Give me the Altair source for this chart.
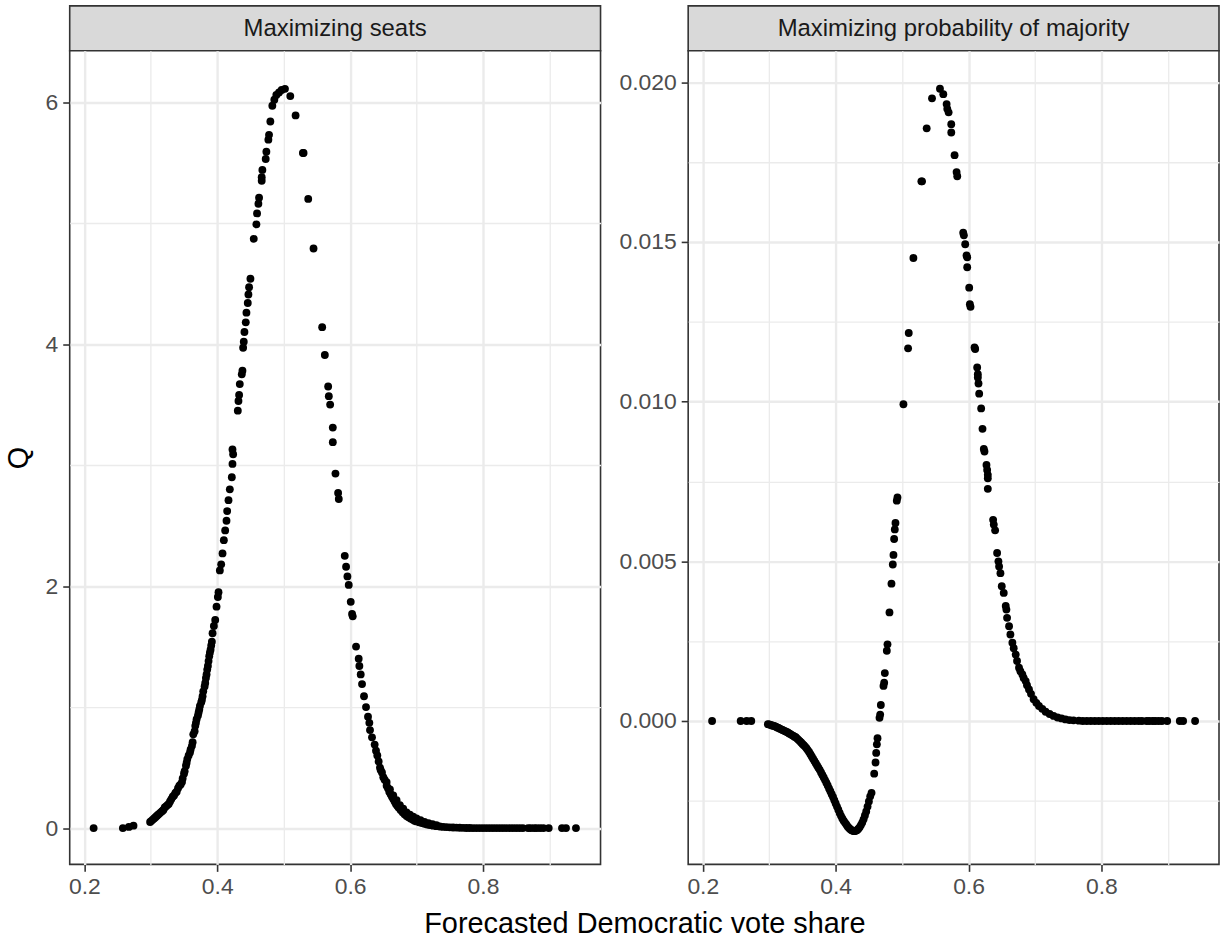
import altair as alt
import pandas as pd

# ---------------- data ----------------
panel_titles = ["Maximizing seats", "Maximizing probability of majority"]

# ---- left panel ("Maximizing seats"), in segments; each x list matches its q list ----
left_low_x = [0.214, 0.258, 0.267, 0.274,
              0.299, 0.301, 0.303, 0.305, 0.307, 0.309, 0.311, 0.313, 0.315, 0.317, 0.319, 0.321,
              0.323, 0.325, 0.327, 0.329, 0.331, 0.333, 0.335, 0.337, 0.339, 0.341, 0.343, 0.345]
left_low_q = [0.00, 0.00, 0.01, 0.02,
              0.05, 0.06, 0.07, 0.08, 0.09, 0.10, 0.11, 0.12, 0.13, 0.14, 0.15, 0.17,
              0.18, 0.19, 0.20, 0.22, 0.24, 0.26, 0.27, 0.29, 0.30, 0.33, 0.35, 0.36]
left_mid_x = [0.347, 0.348, 0.350, 0.351, 0.353, 0.354, 0.355, 0.357, 0.359, 0.360,
              0.362, 0.363, 0.364, 0.366, 0.367, 0.368, 0.369, 0.371, 0.372, 0.373,
              0.374, 0.376, 0.377, 0.378, 0.379, 0.381, 0.382, 0.383, 0.384, 0.385,
              0.386, 0.387, 0.388, 0.389, 0.390, 0.391, 0.392, 0.393, 0.395, 0.397]
left_mid_q = [0.38, 0.41, 0.45, 0.47, 0.515, 0.54, 0.57, 0.60, 0.625, 0.65,
              0.68, 0.71, 0.775, 0.80, 0.845, 0.87, 0.90, 0.93, 0.955, 0.98,
              1.01, 1.04, 1.06, 1.09, 1.13, 1.17, 1.20, 1.24, 1.27, 1.31,
              1.34, 1.38, 1.42, 1.45, 1.475, 1.51, 1.54, 1.61, 1.67, 1.72]
left_up_x = [0.399, 0.401, 0.402, 0.404, 0.406, 0.408, 0.410, 0.412, 0.414, 0.415,
             0.417, 0.419, 0.422, 0.423, 0.424, 0.423, 0.431, 0.432, 0.433, 0.434,
             0.437, 0.438, 0.439, 0.440, 0.441, 0.443, 0.444, 0.446, 0.447, 0.448,
             0.450, 0.455, 0.459, 0.460, 0.462, 0.463, 0.467, 0.467, 0.468, 0.473,
             0.474, 0.477, 0.478, 0.480, 0.483, 0.486, 0.489, 0.493, 0.497, 0.502]
left_up_q = [1.83, 1.91, 1.95, 2.13, 2.18, 2.27, 2.38, 2.46, 2.54, 2.62,
             2.71, 2.80, 2.90, 3.01, 3.09, 3.13, 3.45, 3.53, 3.58, 3.67,
             3.75, 3.78, 3.97, 4.02, 4.10, 4.18, 4.26, 4.34, 4.41, 4.47,
             4.54, 4.87, 4.99, 5.08, 5.16, 5.21, 5.35, 5.38, 5.44, 5.53,
             5.59, 5.69, 5.73, 5.84, 5.97, 6.02, 6.06, 6.08, 6.10, 6.11]
left_down_x = [0.510, 0.518, 0.529, 0.530, 0.537, 0.545, 0.558, 0.562, 0.567, 0.568,
               0.570, 0.574, 0.574, 0.578, 0.582, 0.583, 0.592, 0.594, 0.596, 0.598,
               0.601, 0.603, 0.604, 0.609, 0.613, 0.614, 0.616, 0.618, 0.621, 0.624,
               0.627, 0.629, 0.630, 0.633, 0.637, 0.639, 0.641, 0.643, 0.645, 0.646,
               0.648, 0.650]
left_down_q = [6.05, 5.89, 5.58, 5.58, 5.20, 4.79, 4.14, 3.91, 3.65, 3.57,
               3.50, 3.31, 3.19, 2.93, 2.77, 2.72, 2.25, 2.16, 2.08, 2.01,
               1.87, 1.77, 1.75, 1.50, 1.40, 1.34, 1.27, 1.19, 1.09, 1.00,
               0.92, 0.87, 0.81, 0.75, 0.69, 0.64, 0.60, 0.55, 0.50, 0.48,
               0.46, 0.42]
left_tail_x = [0.652, 0.655, 0.657, 0.659, 0.661, 0.663, 0.665, 0.667, 0.669, 0.671,
               0.673, 0.676, 0.679, 0.682, 0.685, 0.688, 0.691, 0.694, 0.697, 0.700,
               0.704, 0.708, 0.712, 0.716, 0.720, 0.725, 0.730, 0.735, 0.740, 0.745,
               0.750, 0.755, 0.760, 0.765, 0.770, 0.775, 0.780,
               0.655, 0.660, 0.665, 0.670, 0.675, 0.680, 0.685, 0.690, 0.695, 0.700,
               0.706, 0.712, 0.718, 0.724, 0.730]
left_tail_q = [0.40, 0.35, 0.33, 0.30, 0.28, 0.26, 0.24, 0.22, 0.20, 0.185,
               0.17, 0.15, 0.13, 0.115, 0.10, 0.09, 0.08, 0.07, 0.06, 0.055,
               0.048, 0.042, 0.036, 0.030, 0.025, 0.020, 0.016, 0.013, 0.010, 0.008,
               0.006, 0.005, 0.004, 0.003, 0.002, 0.001, 0.001,
               0.38, 0.32, 0.27, 0.23, 0.19, 0.16, 0.13, 0.11, 0.095, 0.08,
               0.065, 0.05, 0.04, 0.032, 0.025]
left_flat_x = [0.785, 0.790, 0.795, 0.800, 0.805, 0.810, 0.815, 0.820, 0.825, 0.830,
               0.835, 0.840, 0.845, 0.850, 0.855, 0.860, 0.868, 0.872, 0.877, 0.881,
               0.886, 0.891, 0.899, 0.919, 0.925, 0.940]
left_flat_q = [0.0, 0.0, 0.0, 0.0, 0.0, 0.0, 0.0, 0.0, 0.0, 0.0,
               0.0, 0.0, 0.0, 0.0, 0.0, 0.0, 0.0, 0.0, 0.0, 0.0,
               0.0, 0.0, 0.0, 0.0, 0.0, 0.0]

# ---- right panel ("Maximizing probability of majority") ----
right_dip_x = [0.214, 0.257, 0.266, 0.273,
               0.298, 0.300, 0.302, 0.304, 0.306, 0.308, 0.310, 0.312, 0.314, 0.316, 0.318, 0.320,
               0.322, 0.324, 0.326, 0.328, 0.330, 0.332, 0.334, 0.336, 0.338, 0.340, 0.342, 0.344,
               0.346, 0.348, 0.350, 0.352, 0.354, 0.356, 0.358, 0.360, 0.362, 0.364, 0.366, 0.368,
               0.370, 0.372, 0.374, 0.376, 0.378, 0.380, 0.382, 0.384, 0.386, 0.388, 0.390, 0.392,
               0.394, 0.396, 0.398, 0.400, 0.402, 0.404, 0.406, 0.408, 0.410, 0.412, 0.414, 0.416,
               0.418, 0.420, 0.422, 0.424, 0.426, 0.428, 0.430, 0.432, 0.434, 0.436, 0.438, 0.440,
               0.442, 0.444, 0.446, 0.448, 0.450, 0.452, 0.454]
right_dip_q = [0.0, 0.0, 0.0, 0.0,
               -0.00010, -0.00011, -0.00012, -0.00014, -0.00015, -0.00016, -0.00018, -0.00020,
               -0.00022, -0.00024, -0.00026, -0.00028, -0.00030, -0.00032, -0.00034, -0.00036,
               -0.00039, -0.00041, -0.00044, -0.00046, -0.00049, -0.00051, -0.00055, -0.00059,
               -0.00063, -0.00067, -0.00072, -0.00076, -0.00080, -0.00085, -0.00091, -0.00097,
               -0.00104, -0.00111, -0.00118, -0.00125, -0.00132, -0.00139, -0.00146, -0.00153,
               -0.00161, -0.00169, -0.00177, -0.00185, -0.00193, -0.00202, -0.00211, -0.00220,
               -0.00229, -0.00238, -0.00248, -0.00258, -0.00268, -0.00278, -0.00288, -0.00297,
               -0.00305, -0.00312, -0.00318, -0.00324, -0.00330, -0.00335, -0.00339, -0.00342,
               -0.00344, -0.00345, -0.00344, -0.00342, -0.00338, -0.00333, -0.00326, -0.00318,
               -0.00308, -0.00296, -0.00283, -0.00268, -0.00252, -0.00236, -0.00225]
right_rise_x = [0.458, 0.460, 0.461, 0.462, 0.463, 0.466, 0.467, 0.468, 0.472, 0.473, 0.474,
                0.477, 0.478, 0.481, 0.484, 0.486, 0.487, 0.488, 0.489, 0.490, 0.492, 0.493]
right_rise_q = [-0.00165, -0.00130, -0.00100, -0.00073, -0.00054, 0.00010, 0.00020, 0.00050,
                0.00110, 0.00120, 0.00150, 0.00220, 0.00240, 0.00340, 0.00430, 0.00490,
                0.00520, 0.00570, 0.00600, 0.00620, 0.00690, 0.00700]
right_peak_x = [0.502, 0.509, 0.510, 0.517, 0.529, 0.530, 0.537, 0.545, 0.557, 0.562, 0.567, 0.568,
                0.570, 0.574, 0.574, 0.579, 0.582, 0.583, 0.592, 0.593, 0.595, 0.597, 0.598, 0.598,
                0.601, 0.602, 0.603, 0.609, 0.610, 0.613, 0.614, 0.614, 0.615, 0.616, 0.619, 0.621,
                0.623, 0.624, 0.627, 0.628, 0.629, 0.629, 0.629, 0.637, 0.638, 0.640, 0.643, 0.645,
                0.646, 0.648, 0.650, 0.653, 0.656, 0.657, 0.658, 0.661, 0.663, 0.666, 0.668, 0.671,
                0.673, 0.676, 0.678, 0.681, 0.683, 0.686, 0.688, 0.691, 0.694, 0.698, 0.702, 0.706,
                0.711, 0.716, 0.722, 0.728, 0.734, 0.740, 0.746, 0.752, 0.758, 0.766]
right_peak_q = [0.00992, 0.01167, 0.01215, 0.01450, 0.01690, 0.01690, 0.01856, 0.01950, 0.01980, 0.01963, 0.01932, 0.01917,
                0.01906, 0.01869, 0.01843, 0.01772, 0.01719, 0.01706, 0.01529, 0.01521, 0.01493, 0.01458, 0.01452, 0.01421,
                0.01357, 0.01305, 0.01297, 0.01170, 0.01165, 0.01107, 0.01086, 0.01076, 0.01057, 0.01025, 0.00979, 0.00915,
                0.00852, 0.00844, 0.00802, 0.00786, 0.00771, 0.00760, 0.00727, 0.00630, 0.00615, 0.00597, 0.00526, 0.00500,
                0.00484, 0.00463, 0.00422, 0.00401, 0.00360, 0.00349, 0.00323, 0.00297, 0.00271, 0.00245, 0.00228, 0.00208,
                0.00188, 0.00167, 0.00156, 0.00146, 0.00135, 0.00125, 0.00112, 0.00099, 0.00085, 0.00068, 0.00057, 0.00047,
                0.00038, 0.00029, 0.00022, 0.00016, 0.00011, 0.00008, 0.00005, 0.00003, 0.00002, 0.00001]
right_flat_x = [0.772, 0.778, 0.784, 0.790, 0.796, 0.802, 0.808, 0.814, 0.820, 0.826, 0.832, 0.838, 0.844,
                0.850, 0.856, 0.861, 0.868, 0.872, 0.877, 0.881, 0.886, 0.891, 0.899, 0.918, 0.923, 0.941]
right_flat_q = [0.0, 0.0, 0.0, 0.0, 0.0, 0.0, 0.0, 0.0, 0.0, 0.0, 0.0, 0.0, 0.0,
                0.0, 0.0, 0.0, 0.0, 0.0, 0.0, 0.0, 0.0, 0.0, 0.0, 0.0, 0.0, 0.0]

left_x = left_low_x + left_mid_x + left_up_x + left_down_x + left_tail_x + left_flat_x
left_q = left_low_q + left_mid_q + left_up_q + left_down_q + left_tail_q + left_flat_q
right_x = right_dip_x + right_rise_x + right_peak_x + right_flat_x
right_q = right_dip_q + right_rise_q + right_peak_q + right_flat_q

x_values = [0.2, 0.3, 0.4, 0.5, 0.6, 0.7, 0.8, 0.9]
left_y_values = [0, 1, 2, 3, 4, 5, 6]
right_y_values = [-0.0025, 0.0, 0.0025, 0.005, 0.0075, 0.01, 0.0125, 0.015, 0.0175, 0.02]

# ---------------- styling ----------------
FONT = "Liberation Sans"
PW, PH, SH = 533, 817, 45
GRID = "#EBEBEB"
BORDER = "#333333"

x_major = "round(datum.value*10) % 2 == 0"


def x_axis(with_title):
    kw = dict(
        values=x_values, format=".1f",
        labelExpr=f"{x_major} ? datum.label : ''",
        gridColor=GRID,
        gridWidth={"condition": {"test": x_major, "value": 2.4}, "value": 1.3},
        tickOpacity={"condition": {"test": x_major, "value": 1}, "value": 0},
        tickSize=7, tickWidth=1.6, tickColor=BORDER,
        labelColor="#4D4D4D", labelFontSize=23, labelPadding=4, labelFont=FONT,
        domain=False,
    )
    if with_title:
        kw.update(title="Forecasted Democratic vote share", titleFontSize=29,
                  titleFont=FONT, titleFontWeight="normal", titleColor="black",
                  titleX=577, titleY=45, titleBaseline="top", titleAnchor="start",
                  titleAlign="center")
    else:
        kw.update(title=None)
    return alt.Axis(**kw)


def y_axis(values, fmt, major_test, title):
    kw = dict(
        values=values, format=fmt,
        labelExpr=f"{major_test} ? datum.label : ''",
        gridColor=GRID,
        gridWidth={"condition": {"test": major_test, "value": 2.4}, "value": 1.3},
        tickOpacity={"condition": {"test": major_test, "value": 1}, "value": 0},
        tickSize=7, tickWidth=1.6, tickColor=BORDER,
        labelColor="#4D4D4D", labelFontSize=23, labelPadding=5, labelFont=FONT,
        domain=False,
    )
    if title:
        kw.update(title=title, titleFontSize=29, titleFont=FONT,
                  titleFontWeight="normal", titleColor="black", titlePadding=12)
    else:
        kw.update(title=None)
    return alt.Axis(**kw)


def panel(xs, qs, ydom, yaxis, with_xtitle):
    df = pd.DataFrame({"x": xs, "q": qs})
    return alt.Chart(df).mark_circle(size=62, color="black", opacity=1).encode(
        x=alt.X("x:Q", scale=alt.Scale(domain=[0.178, 0.977], nice=False, zero=False),
                axis=x_axis(with_xtitle)),
        y=alt.Y("q:Q", scale=alt.Scale(domain=ydom, nice=False, zero=False), axis=yaxis),
    ).properties(width=PW, height=PH,
                 view=alt.ViewBackground(fill="white", stroke=BORDER, strokeWidth=1.6))


def strip(title):
    df = pd.DataFrame({"label": [title]})
    return alt.Chart(df).mark_text(font=FONT, fontSize=24, color="#1A1A1A",
                                   baseline="middle", align="center").encode(
        text="label:N", x=alt.value(PW / 2), y=alt.value(SH / 2 + 1),
    ).properties(width=PW, height=SH,
                 view=alt.ViewBackground(fill="#D9D9D9", stroke=BORDER, strokeWidth=1.6))


left_panel = panel(left_x, left_q, [-0.300, 6.425],
                   y_axis(left_y_values, "d", "datum.value % 2 == 0", "Q"), True)
right_panel = panel(right_x, right_q, [-0.00449, 0.02099],
                    y_axis(right_y_values, ".3f", "round(datum.value*400) % 2 == 0", None), False)

chart = alt.concat(
    strip(panel_titles[0]), strip(panel_titles[1]), left_panel, right_panel,
    columns=2, spacing={"row": 0, "column": 88}, bounds="flush",
).properties(
    padding={"left": 3, "top": 3, "right": 0, "bottom": 0},
    background="white",
).configure(font=FONT)

chart.save("out.html", embed_options={"renderer": "svg", "actions": False})
